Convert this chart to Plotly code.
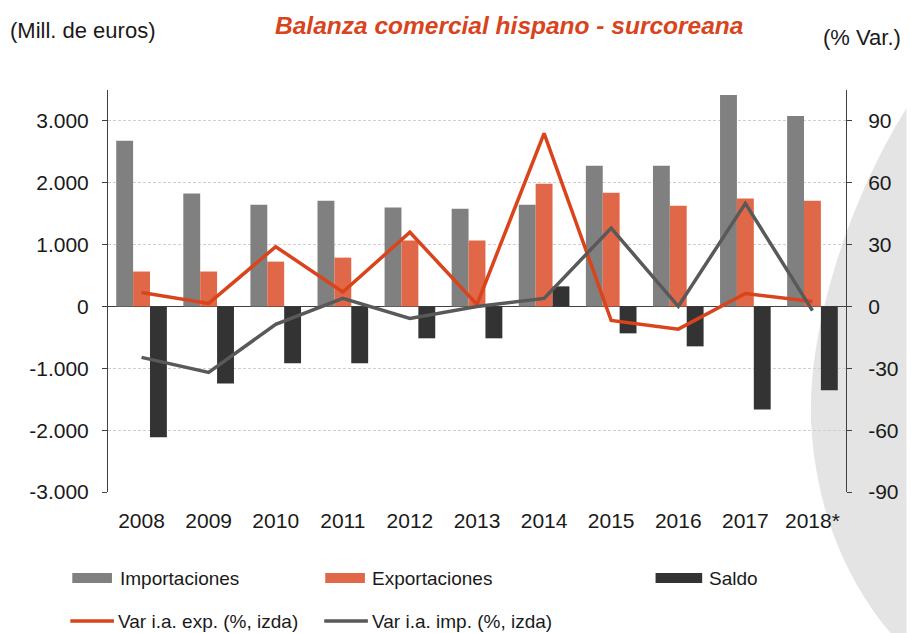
import plotly.graph_objects as go

years = ["2008", "2009", "2010", "2011", "2012", "2013", "2014", "2015", "2016", "2017", "2018*"]
importaciones = [2680, 1825, 1645, 1710, 1600, 1580, 1645, 2275, 2275, 3420, 3080]
exportaciones = [565, 565, 725, 790, 1065, 1065, 1985, 1840, 1630, 1745, 1710]
saldo = [-2115, -1245, -920, -920, -515, -515, 325, -435, -645, -1665, -1355]
var_exp = [6.8, 1.5, 29, 7, 36, 1, 84, -6.8, -11, 6.3, 2.4]
var_imp = [-24.7, -32, -8.7, 3.9, -5.8, 0, 3.9, 38, 0, 50, -2]

left_ticks = [-3000, -2000, -1000, 0, 1000, 2000, 3000]
left_tick_labels = ["-3.000", "-2.000", "-1.000", "0", "1.000", "2.000", "3.000"]
right_ticks = [-90, -60, -30, 0, 30, 60, 90]
right_tick_labels = ["-90", "-60", "-30", "0", "30", "60", "90"]

C_IMP = "#808080"
C_EXP = "#E06848"
C_SAL = "#333333"
C_LEXP = "#D9441C"
C_LIMP = "#595959"
FONT = "Liberation Sans, Arial, sans-serif"

W, H = 911, 633
ML, MR, MT, MB = 108, 59, 90, 141
PW, PH = W - ML - MR, H - MT - MB


def px(x):
    return (x - ML) / PW


def py(y):
    return (H - MB - y) / PH


fig = go.Figure()
fig.add_trace(go.Bar(x=years, y=importaciones, name="Importaciones", marker_color=C_IMP, marker_line_width=0))
fig.add_trace(go.Bar(x=years, y=exportaciones, name="Exportaciones", marker_color=C_EXP, marker_line_width=0))
fig.add_trace(go.Bar(x=years, y=saldo, name="Saldo", marker_color=C_SAL, marker_line_width=0))
fig.add_trace(go.Scatter(x=years, y=var_exp, name="Var i.a. exp. (%, izda)", mode="lines",
                         line=dict(color=C_LEXP, width=3.5), yaxis="y2"))
fig.add_trace(go.Scatter(x=years, y=var_imp, name="Var i.a. imp. (%, izda)", mode="lines",
                         line=dict(color=C_LIMP, width=3.5), yaxis="y2"))

# decorative background shape on the right
pts = [(913, 108), (855, 200), (812, 330), (817, 425), (822, 520), (860, 590), (897, 633)]
p = [(px(a), py(b)) for a, b in pts]
path = (f"M {p[0][0]},{p[0][1]} C {p[1][0]},{p[1][1]} {p[2][0]},{p[2][1]} {p[3][0]},{p[3][1]} "
        f"C {p[4][0]},{p[4][1]} {p[5][0]},{p[5][1]} {p[6][0]},{p[6][1]} "
        f"L {px(913)},{py(633)} Z")
shapes = [dict(type="path", xref="paper", yref="paper", path=path,
               fillcolor="#E4E4E4", line=dict(width=0), layer="below")]

annotations = [
    dict(text="<b><i>Balanza comercial hispano - surcoreana</i></b>", x=px(512), y=py(25),
         xref="paper", yref="paper", showarrow=False, xanchor="center", yanchor="middle",
         font=dict(size=24.5, color=C_LEXP, family=FONT)),
    dict(text="(Mill. de euros)", x=px(7), y=py(30), xref="paper", yref="paper", showarrow=False,
         xanchor="left", yanchor="middle", font=dict(size=22, color="#1a1a1a", family=FONT)),
    dict(text="(% Var.)", x=px(909), y=py(38), xref="paper", yref="paper", showarrow=False,
         xanchor="right", yanchor="middle", font=dict(size=22, color="#1a1a1a", family=FONT)),
]

# manual legend
legend_items = [
    ("bar", C_IMP, "Importaciones", 72, 112, 578, 118),
    ("bar", C_EXP, "Exportaciones", 327, 367, 578, 372),
    ("bar", C_SAL, "Saldo", 660, 707, 578, 712),
    ("line", C_LEXP, "Var i.a. exp. (%, izda)", 70, 114, 621, 116),
    ("line", C_LIMP, "Var i.a. imp. (%, izda)", 326, 370, 621, 372),
]
for kind, col, label, x0, x1, yc, tx in legend_items:
    if kind == "bar":
        shapes.append(dict(type="rect", xref="paper", yref="paper", x0=px(x0), x1=px(x1),
                           y0=py(yc - 5), y1=py(yc + 5), fillcolor=col, line=dict(width=0)))
    else:
        shapes.append(dict(type="line", xref="paper", yref="paper", x0=px(x0), x1=px(x1),
                           y0=py(yc), y1=py(yc), line=dict(color=col, width=3.5)))
    annotations.append(dict(text=label, x=px(tx), y=py(yc), xref="paper", yref="paper",
                            showarrow=False, xanchor="left", yanchor="middle",
                            font=dict(size=19, color="#1a1a1a", family=FONT)))

fig.update_layout(
    width=W, height=H,
    margin=dict(l=ML, r=MR, t=MT, b=MB),
    paper_bgcolor="white", plot_bgcolor="rgba(0,0,0,0)",
    barmode="group", bargap=0.245, bargroupgap=0,
    showlegend=False,
    font=dict(family=FONT, size=21, color="#1a1a1a"),
    xaxis=dict(showgrid=False, showline=False, ticks="", tickfont=dict(size=21),
               ticklabelstandoff=14),
    yaxis=dict(range=[-3000, 3500], tickvals=left_ticks, ticktext=left_tick_labels,
               showgrid=True, gridcolor="#CFCFCF", griddash="3px,2px", gridwidth=1,
               zeroline=True, zerolinecolor="#404040", zerolinewidth=1,
               showline=True, linecolor="#404040", linewidth=1,
               ticks="outside", ticklen=5, tickcolor="#404040",
               tickfont=dict(size=21), ticklabelstandoff=9),
    yaxis2=dict(range=[-90, 105], tickvals=right_ticks, ticktext=right_tick_labels,
                overlaying="y", side="right",
                showgrid=False, zeroline=False,
                showline=True, linecolor="#404040", linewidth=1,
                ticks="outside", ticklen=5, tickcolor="#404040",
                tickfont=dict(size=21), ticklabelstandoff=12),
    shapes=shapes,
    annotations=annotations,
)

fig.write_html("out.html", config={"displayModeBar": False},
               post_script="document.body.style.margin='0';document.body.style.overflow='hidden';")
